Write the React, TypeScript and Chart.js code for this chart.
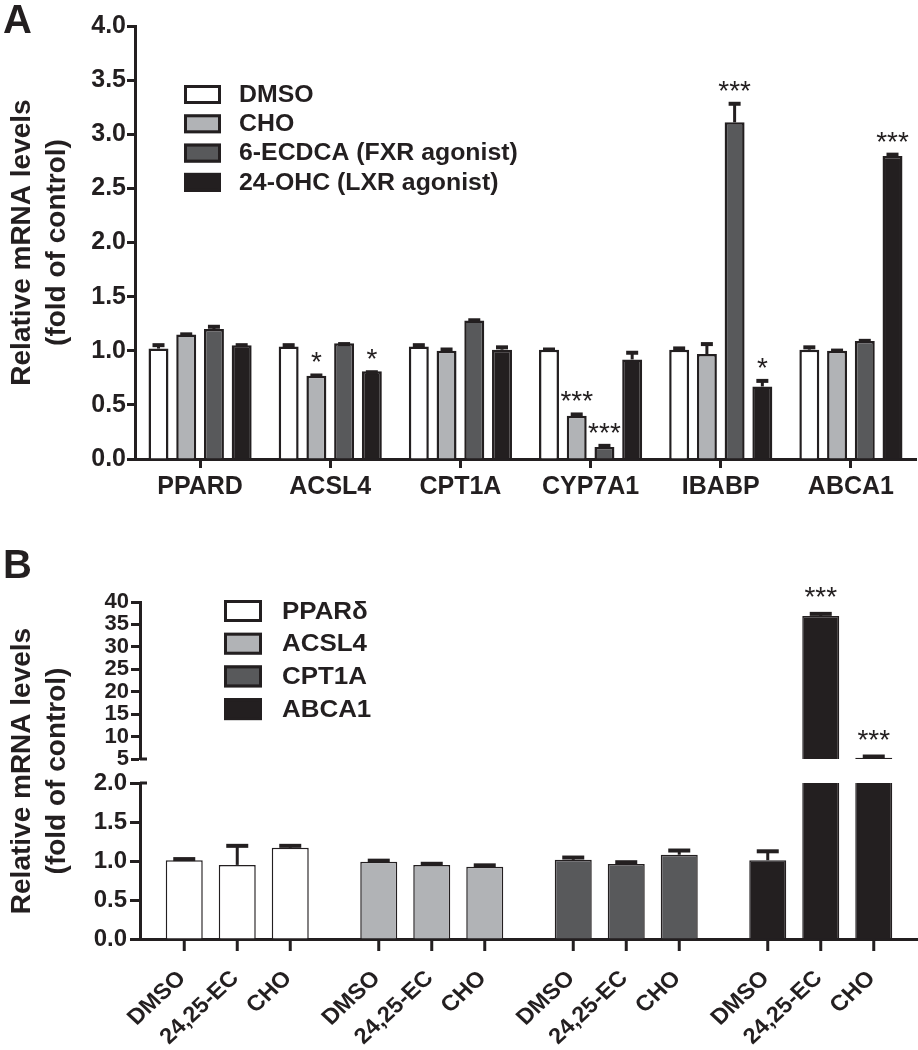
import React, { useEffect, useRef } from 'react';
import { Chart, registerables } from 'chart.js';
Chart.register(...registerables);

const FONT = '"Liberation Sans", Arial, Helvetica, sans-serif';
const INK = '#231f20';

// ---------- Panel A data ----------
const genesA = ['PPARD', 'ACSL4', 'CPT1A', 'CYP7A1', 'IBABP', 'ABCA1'];
const seriesA = ['DMSO', 'CHO', '6-ECDCA (FXR agonist)', '24-OHC (LXR agonist)'];
const dmsoA = [1.02, 1.04, 1.04, 1.01, 1.01, 1.01];
const choA = [1.15, 0.77, 1.0, 0.4, 0.97, 1.0];
const ecdcaA = [1.2, 1.07, 1.28, 0.11, 3.11, 1.09];
const ohcA = [1.05, 0.81, 1.01, 0.92, 0.67, 2.8];
const dmsoErrTopA = [1.07, 1.07, 1.07, 1.03, 1.04, 1.05];
const choErrTopA = [1.17, 0.79, 1.03, 0.43, 1.08, 1.02];
const ecdcaErrTopA = [1.24, 1.08, 1.3, 0.14, 3.3, 1.11];
const ohcErrTopA = [1.07, 0.82, 1.05, 1.0, 0.74, 2.83];
const dmsoStarsA = ['', '', '', '', '', ''];
const choStarsA = ['', '*', '', '***', '', ''];
const ecdcaStarsA = ['', '', '', '***', '***', ''];
const ohcStarsA = ['', '*', '', '', '*', '***'];
const yTicksA = [0, 0.5, 1, 1.5, 2, 2.5, 3, 3.5, 4];

// ---------- Panel B data ----------
const genesB = ['PPARδ', 'ACSL4', 'CPT1A', 'ABCA1'];
const treatmentsB = ['DMSO', '24,25-EC', 'CHO'];
const dmsoB = [1.01, 0.99, 1.015, 1.01];
const ecB = [0.95, 0.95, 0.96, 36.9];
const choB = [1.17, 0.925, 1.08, 5.3];
const dmsoErrTopB = [1.05, 1.03, 1.07, 1.15];
const ecErrTopB = [1.22, 0.99, 1.01, 37.8];
const choErrTopB = [1.22, 0.97, 1.16, 6.0];
const dmsoStarsB = ['', '', '', ''];
const ecStarsB = ['', '', '', '***'];
const choStarsB = ['', '', '', '***'];
const yTicksBLow = [0, 0.5, 1, 1.5, 2];
const yTicksBHigh = [5, 10, 15, 20, 25, 30, 35, 40];

// ---------- styles ----------
const fillsA = ['#ffffff', '#b1b3b6', '#58595b', '#231f20'];
const fillsB = ['#ffffff', '#b1b3b6', '#58595b', '#231f20'];

type ErrStyle = { capW: number; capT: number; lineW: number; starFont: string; starDy: number };

function drawErrors(chart: any, tops: number[][], stars: string[][], s: ErrStyle) {
  const ctx = chart.ctx;
  const y = chart.scales.y;
  ctx.save();
  ctx.fillStyle = INK;
  ctx.strokeStyle = INK;
  tops.forEach((arr, di) => {
    const meta = chart.getDatasetMeta(di);
    const vals = chart.data.datasets[di].data as number[];
    meta.data.forEach((el: any, j: number) => {
      const top = arr[j];
      const v = vals[j];
      if (v < y.min || v > y.max || top > y.max) return;
      const yb = y.getPixelForValue(v);
      const yt = y.getPixelForValue(top);
      ctx.lineWidth = s.lineW;
      ctx.beginPath();
      ctx.moveTo(el.x, yb);
      ctx.lineTo(el.x, yt + 1);
      ctx.stroke();
      ctx.fillRect(el.x - s.capW / 2, yt, s.capW, s.capT);
      const st = stars[di][j];
      if (st) {
        ctx.font = s.starFont;
        ctx.textAlign = 'center';
        ctx.textBaseline = 'alphabetic';
        ctx.fillText(st, el.x, yt + s.starDy);
      }
    });
  });
  ctx.restore();
}

function drawLegend(ctx: CanvasRenderingContext2D, labels: string[], fills: string[], x0: number, y0: number, pitch: number, bw: number, bh: number, tx: number, font: string) {
  ctx.save();
  labels.forEach((lab, i) => {
    const y = y0 + i * pitch;
    ctx.fillStyle = fills[i];
    ctx.fillRect(x0, y, bw, bh);
    ctx.lineWidth = 3;
    ctx.strokeStyle = INK;
    ctx.strokeRect(x0 + 1.5, y + 1.5, bw - 3, bh - 3);
    ctx.fillStyle = INK;
    ctx.font = font;
    ctx.textAlign = 'left';
    ctx.textBaseline = 'middle';
    ctx.save();
    ctx.translate(tx, y + bh / 2 + 1);
    ctx.scale(1.08, 1);
    ctx.fillText(lab, 0, 0);
    ctx.restore();
  });
  ctx.restore();
}

function yAxis(vals: number[], fmt: (v: number) => string, width: number, fontSize: number, tickLen: number, pad: number, extra: any = {}) {
  return {
    min: vals[0],
    max: vals[vals.length - 1],
    afterBuildTicks: (s: any) => {
      s.ticks = vals.map((v) => ({ value: v }));
    },
    afterFit: (s: any) => {
      s.width = width;
    },
    ticks: {
      autoSkip: false,
      callback: (v: any) => fmt(Number(v)),
      font: { family: FONT, size: fontSize, weight: 'bold' },
      color: INK,
      padding: pad,
    },
    grid: { drawOnChartArea: false, tickLength: tickLen, tickWidth: 3, tickColor: INK },
    border: { display: true, width: 3, color: INK },
    ...extra,
  };
}

const baseOpts = {
  responsive: false,
  animation: false as const,
  devicePixelRatio: 1,
  events: [] as any[],
};

export default function App() {
  const refA = useRef<HTMLCanvasElement>(null);
  const refBLow = useRef<HTMLCanvasElement>(null);
  const refBHigh = useRef<HTMLCanvasElement>(null);

  useEffect(() => {
    Chart.defaults.font.family = FONT;
    Chart.defaults.color = INK;

    // ---------- Panel A ----------
    const valsA = [dmsoA, choA, ecdcaA, ohcA];
    const topsA = [dmsoErrTopA, choErrTopA, ecdcaErrTopA, ohcErrTopA];
    const starsA = [dmsoStarsA, choStarsA, ecdcaStarsA, ohcStarsA];
    const chartA = new Chart(refA.current!, {
      type: 'bar',
      data: {
        labels: genesA,
        datasets: seriesA.map((name, i) => ({
          label: name,
          data: valsA[i],
          backgroundColor: fillsA[i],
          borderColor: INK,
          borderWidth: 2.5,
          categoryPercentage: 0.852,
          barPercentage: 0.72,
        })),
      },
      options: {
        ...baseOpts,
        layout: { padding: { top: 26, right: 2, left: 0, bottom: 0 } },
        plugins: { legend: { display: false }, tooltip: { enabled: false } },
        scales: {
          x: {
            afterFit: (s: any) => {
              s.height = 61;
            },
            ticks: { font: { family: FONT, size: 25, weight: 'bold' }, color: INK, padding: 4 },
            grid: { offset: false, drawOnChartArea: false, tickLength: 9, tickWidth: 3, tickColor: INK },
            border: { display: true, width: 3, color: INK },
          },
          y: yAxis(yTicksA, (v) => v.toFixed(1), 135, 25, 8, 1, {
            title: {
              display: true,
              text: ['Relative mRNA levels', '(fold of control)'],
              font: { family: FONT, size: 28, weight: 'bold', lineHeight: 1.25 },
              color: INK,
              padding: { top: 4.5, bottom: 0 },
            },
          }),
        },
      },
      plugins: [
        {
          id: 'annotA',
          afterDatasetsDraw(chart: any) {
            drawErrors(chart, topsA, starsA, { capW: 12, capT: 4, lineW: 3, starFont: `28px ${FONT}`, starDy: -2 });
          },
          afterDraw(chart: any) {
            const ctx = chart.ctx;
            ctx.save();
            ctx.fillStyle = INK;
            ctx.font = `bold 40px ${FONT}`;
            ctx.textAlign = 'left';
            ctx.textBaseline = 'alphabetic';
            ctx.fillText('A', 3, 33);
            ctx.restore();
            drawLegend(ctx, seriesA, fillsA, 184, 85, 29.3, 37, 19, 239, `bold 23px ${FONT}`);
          },
        },
      ],
    });

    // ---------- Panel B ----------
    const valsB = [dmsoB, ecB, choB];
    const topsB = [dmsoErrTopB, ecErrTopB, choErrTopB];
    const starsB = [dmsoStarsB, ecStarsB, choStarsB];
    const dsB = () =>
      treatmentsB.map((name, i) => ({
        label: name,
        data: valsB[i],
        backgroundColor: fillsB,
        borderColor: INK,
        borderWidth: 1.5,
        categoryPercentage: 0.8175,
        barPercentage: 0.698,
      }));
    const errStyleB: ErrStyle = { capW: 22, capT: 4, lineW: 3, starFont: `28px ${FONT}`, starDy: -6 };

    const chartBLow = new Chart(refBLow.current!, {
      type: 'bar',
      data: { labels: genesB, datasets: dsB() },
      options: {
        ...baseOpts,
        layout: { padding: { top: 263, right: 0, left: 0, bottom: 0 } },
        plugins: { legend: { display: false }, tooltip: { enabled: false } },
        scales: {
          x: {
            afterFit: (s: any) => {
              s.height = 111;
            },
            ticks: { display: false },
            grid: { display: true, drawOnChartArea: false, drawTicks: false },
            border: { display: true, width: 3, color: INK },
          },
          y: yAxis(yTicksBLow, (v) => v.toFixed(1), 140, 24, 10, 3),
        },
      },
      plugins: [
        {
          id: 'annotBLow',
          afterDatasetsDraw(chart: any) {
            drawErrors(chart, topsB, starsB, errStyleB);
          },
          afterDraw(chart: any) {
            const ctx = chart.ctx;
            const area = chart.chartArea;
            ctx.save();
            ctx.fillStyle = INK;
            ctx.strokeStyle = INK;
            // break mark at top of lower segment
            ctx.lineWidth = 3;
            ctx.beginPath();
            ctx.moveTo(area.left, area.top);
            ctx.lineTo(area.left + 7, area.top);
            ctx.stroke();
            // per-bar tick marks and rotated labels
            treatmentsB.forEach((lab, di) => {
              const meta = chart.getDatasetMeta(di);
              meta.data.forEach((el: any) => {
                ctx.lineWidth = 3;
                ctx.beginPath();
                ctx.moveTo(el.x, area.bottom);
                ctx.lineTo(el.x, area.bottom + 12);
                ctx.stroke();
                ctx.save();
                ctx.translate(el.x - 2, area.bottom + 36);
                ctx.scale(1.08, 1);
                ctx.rotate(-Math.PI / 4);
                ctx.font = `bold 22px ${FONT}`;
                ctx.textAlign = 'right';
                ctx.textBaseline = 'middle';
                ctx.fillText(lab, 0, 0);
                ctx.restore();
              });
            });
            // panel letter
            ctx.font = `bold 40px ${FONT}`;
            ctx.textAlign = 'left';
            ctx.textBaseline = 'alphabetic';
            ctx.fillText('B', 3, 58);
            // y title spanning both segments
            ctx.save();
            ctx.translate(22, 251);
            ctx.rotate(-Math.PI / 2);
            ctx.font = `bold 28px ${FONT}`;
            ctx.textAlign = 'center';
            ctx.textBaseline = 'middle';
            ctx.fillText('Relative mRNA levels', 0, 0);
            ctx.fillText('(fold of control)', 0, 35);
            ctx.restore();
            ctx.restore();
            drawLegend(ctx, genesB, fillsB, 224, 80, 32.7, 38, 22, 282, `bold 24px ${FONT}`);
          },
        },
      ],
    });

    const chartBHigh = new Chart(refBHigh.current!, {
      type: 'bar',
      data: { labels: genesB, datasets: dsB() },
      options: {
        ...baseOpts,
        layout: { padding: { top: 62, right: 0, left: 0, bottom: 21 } },
        plugins: { legend: { display: false }, tooltip: { enabled: false } },
        scales: {
          x: { display: false },
          y: yAxis(yTicksBHigh, (v) => String(v), 140, 22, 9, 2),
        },
      },
      plugins: [
        {
          id: 'annotBHigh',
          afterDatasetsDraw(chart: any) {
            drawErrors(chart, topsB, starsB, errStyleB);
          },
          afterDraw(chart: any) {
            const ctx = chart.ctx;
            const area = chart.chartArea;
            ctx.save();
            ctx.strokeStyle = INK;
            ctx.lineWidth = 3;
            ctx.beginPath();
            ctx.moveTo(area.left, area.bottom);
            ctx.lineTo(area.left + 7, area.bottom);
            ctx.stroke();
            ctx.restore();
          },
        },
      ],
    });

    return () => {
      chartA.destroy();
      chartBLow.destroy();
      chartBHigh.destroy();
    };
  }, []);

  return (
    <div style={{ position: 'absolute', left: 0, top: 0, width: 918, height: 1050, background: '#fff' }}>
      <canvas ref={refA} width={918} height={520} style={{ position: 'absolute', left: 0, top: 0 }} />
      <canvas ref={refBLow} width={918} height={530} style={{ position: 'absolute', left: 0, top: 520 }} />
      <canvas ref={refBHigh} width={918} height={240} style={{ position: 'absolute', left: 0, top: 540 }} />
    </div>
  );
}
